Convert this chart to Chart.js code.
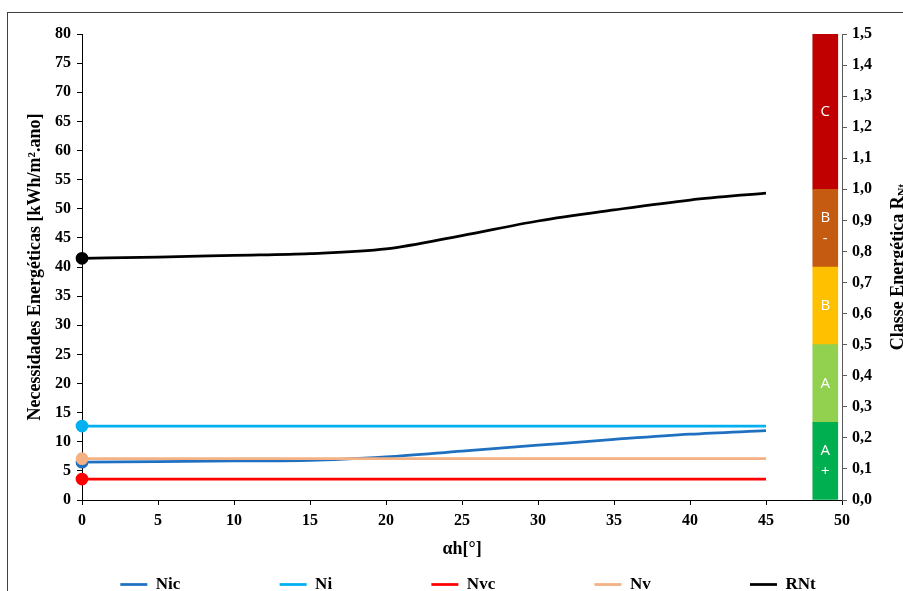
<!DOCTYPE html>
<html>
<head>
<meta charset="utf-8">
<script src="https://cdn.jsdelivr.net/npm/chart.js"></script>
<style>
    body { margin: 0; background: #fff; overflow: hidden; }
    #box { position: absolute; left: 7px; top: 12px; width: 940px; height: 640px; border: 1px solid #404040; }
    #chart { position: absolute; left: 0; top: 0; }
</style>
</head>
<body>
<div id="box"><canvas id="chart" width="920" height="590"></canvas></div>
<script>
// data
const angles = [0, 5, 10, 15, 20, 25, 30, 35, 40, 45];
const nic = [6.5, 6.6, 6.7, 6.8, 7.4, 8.4, 9.4, 10.4, 11.3, 11.9];
const ni = [12.7, 12.7, 12.7, 12.7, 12.7, 12.7, 12.7, 12.7, 12.7, 12.7];
const nvc = [3.6, 3.6, 3.6, 3.6, 3.6, 3.6, 3.6, 3.6, 3.6, 3.6];
const nv = [7.1, 7.1, 7.1, 7.1, 7.1, 7.1, 7.1, 7.1, 7.1, 7.1];
const rnt = [41.5, 41.7, 42.0, 42.3, 43.1, 45.4, 47.9, 49.8, 51.5, 52.7];

const seriesNames = ['Nic', 'Ni', 'Nvc', 'Nv', 'RNt'];
const seriesValues = [nic, ni, nvc, nv, rnt];
const seriesColors = ['#1F70C1', '#00B0F0', '#FF0000', '#F4B183', '#000000'];

// energy classes on the right axis
const classNames = ['A+', 'A', 'B', 'B-', 'C'];
const classText = [['A', '+'], ['A'], ['B'], ['B', '-'], ['C']];
const classBounds = [0, 0.25, 0.5, 0.75, 1.0, 1.5];
const classColors = ['#00B050', '#92D050', '#FFC000', '#C55A11', '#C00000'];
const classX = 48.9;

const serif = '"Liberation Serif", "Times New Roman", serif';

// later series drawn on top, like the original
const lineSets = seriesNames.map((name, i) => ({
    type: 'line',
    label: name,
    data: angles.map((a, j) => ({ x: a, y: seriesValues[i][j] })),
    borderColor: seriesColors[i],
    backgroundColor: seriesColors[i],
    borderWidth: 2.75,
    pointRadius: ctx => ctx.dataIndex === 0 ? 5 : 0,
    pointBackgroundColor: seriesColors[i],
    pointBorderColor: seriesColors[i],
    cubicInterpolationMode: 'monotone',
    clip: false,
    yAxisID: 'y',
    order: 10 - i
}));

const classSets = classNames.map((name, i) => ({
    type: 'bar',
    label: name,
    data: [{ x: classX, y: [classBounds[i], classBounds[i + 1]] }],
    backgroundColor: classColors[i],
    borderWidth: 0,
    barThickness: 25,
    grouped: false,
    yAxisID: 'y2',
    order: 20
}));

const classLabels = {
    id: 'classLabels',
    afterDatasetsDraw(chart) {
        const ctx = chart.ctx;
        ctx.save();
        ctx.fillStyle = '#fff';
        ctx.font = '15px "Open Sans", sans-serif';
        ctx.textAlign = 'center';
        ctx.textBaseline = 'middle';
        classSets.forEach((ds, k) => {
            const el = chart.getDatasetMeta(lineSets.length + k).data[0];
            const cy = (el.y + el.base) / 2;
            const lines = classText[k];
            lines.forEach((t, n) => {
                ctx.fillText(t, el.x, cy + (n - (lines.length - 1) / 2) * 21);
            });
        });
        ctx.restore();
    }
};

const rightTitle = {
    id: 'rightTitle',
    afterDraw(chart) {
        const ctx = chart.ctx;
        const area = chart.chartArea;
        const main = 'Classe Energética R';
        const sub = 'Nt';
        ctx.save();
        ctx.translate(chart.scales.y2.left + 56, (area.top + area.bottom) / 2);
        ctx.rotate(-Math.PI / 2);
        ctx.fillStyle = '#000';
        ctx.textBaseline = 'middle';
        ctx.font = 'bold 18px ' + serif;
        const w1 = ctx.measureText(main).width;
        ctx.font = 'bold 12px ' + serif;
        const w2 = ctx.measureText(sub).width;
        const x0 = -(w1 + w2) / 2;
        ctx.font = 'bold 18px ' + serif;
        ctx.fillText(main, x0, 0);
        ctx.font = 'bold 12px ' + serif;
        ctx.fillText(sub, x0 + w1, 5);
        ctx.restore();
    }
};

const tickFont = { family: serif, size: 16, weight: 'bold' };
const titleFont = { family: serif, size: 18, weight: 'bold' };

new Chart(document.getElementById('chart'), {
    type: 'line',
    data: { datasets: [...lineSets, ...classSets] },
    plugins: [classLabels, rightTitle],
    options: {
        responsive: false,
        animation: false,
        layout: { padding: { top: 21, left: 0, right: 0, bottom: 0 } },
        plugins: {
            tooltip: { enabled: false },
            legend: {
                position: 'bottom',
                labels: {
                    usePointStyle: true,
                    pointStyle: 'line',
                    pointStyleWidth: 27,
                    color: '#000',
                    padding: 10,
                    font: { family: serif, size: 17, weight: 'bold' },
                    filter: item => item.datasetIndex < lineSets.length,
                    sort: (a, b) => a.datasetIndex - b.datasetIndex,
                    generateLabels: chart => {
                        const items = Chart.defaults.plugins.legend.labels.generateLabels(chart);
                        return items.map(it => {
                            if (it.datasetIndex < lineSets.length - 1) it.text = it.text + ' '.repeat(21);
                            return it;
                        });
                    }
                }
            }
        },
        scales: {
            x: {
                type: 'linear',
                min: 0,
                max: 50,
                offset: false,
                afterFit: s => { s.height = 66; },
                ticks: { stepSize: 5, color: '#000', font: tickFont, padding: 6, maxRotation: 0 },
                grid: { drawOnChartArea: false, offset: false, color: '#000', tickLength: 5 },
                border: { color: '#000', width: 1 },
                title: {
                    display: true,
                    text: 'αh[°]',
                    color: '#000',
                    font: titleFont,
                    padding: { top: 4, bottom: 6 }
                }
            },
            y: {
                position: 'left',
                min: 0,
                max: 80,
                afterFit: s => { s.width = 74; },
                ticks: { stepSize: 5, color: '#000', font: tickFont, padding: 6 },
                grid: { drawOnChartArea: false, color: '#000', tickLength: 5 },
                border: { color: '#000', width: 1 },
                title: {
                    display: true,
                    text: 'Necessidades Energéticas [kWh/m².ano]',
                    color: '#000',
                    font: titleFont,
                    padding: { top: 17, bottom: 4 }
                }
            },
            y2: {
                position: 'right',
                min: 0,
                max: 1.5,
                afterFit: s => { s.width = 86; },
                ticks: {
                    stepSize: 0.1,
                    color: '#000',
                    font: tickFont,
                    padding: 5,
                    callback: v => v.toFixed(1).replace('.', ',')
                },
                grid: { drawOnChartArea: false, color: '#595959', tickLength: 5 },
                border: { color: '#595959', width: 1 }
            }
        }
    }
});
</script>
</body>
</html>
